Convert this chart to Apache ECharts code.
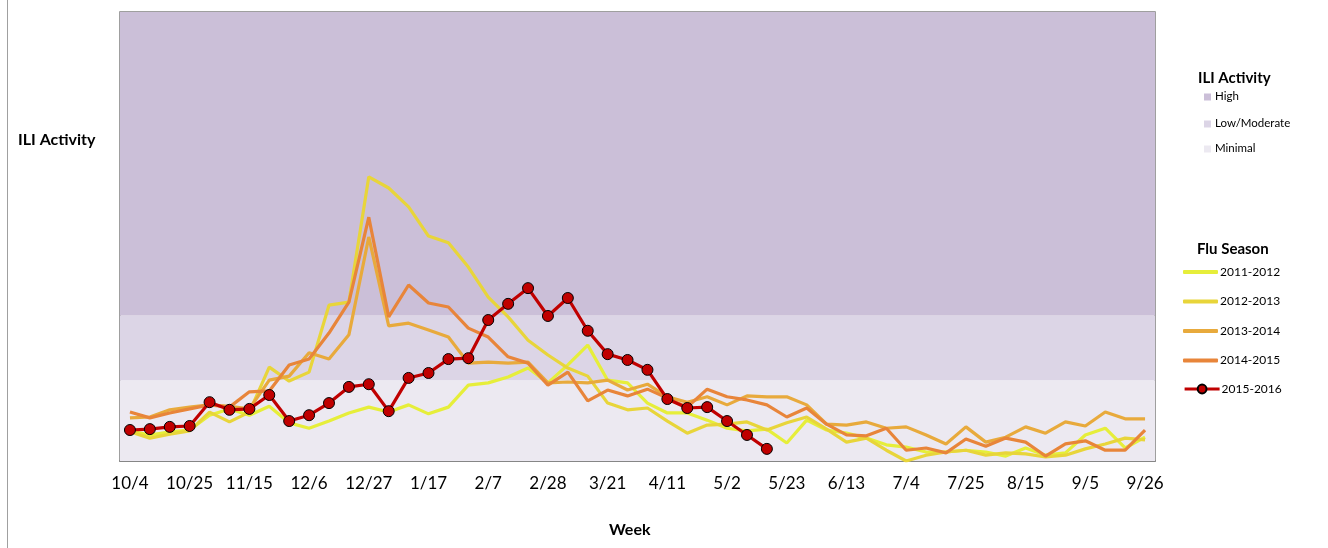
<!DOCTYPE html>
<html>
<head>
<meta charset="utf-8">
<script src="https://cdn.jsdelivr.net/npm/echarts@6/dist/echarts.min.js"></script>
<style>
html,body{margin:0;padding:0;background:#fff;}
#chart{width:1328px;height:548px;}
</style>
</head>
<body>
<div id="chart"></div>
<script>
const weeks = ['10/4','10/11','10/18','10/25','11/1','11/8','11/15','11/22','11/29','12/6','12/13','12/20','12/27','1/3','1/10','1/17','1/24','1/31','2/7','2/14','2/21','2/28','3/7','3/14','3/21','3/28','4/4','4/11','4/18','4/25','5/2','5/9','5/16','5/23','5/30','6/6','6/13','6/20','6/27','7/4','7/11','7/18','7/25','8/1','8/8','8/15','8/22','8/29','9/5','9/12','9/19','9/26'];

const season2011 = [0.67,0.58,0.65,0.69,1.02,1.16,1.02,1.22,0.85,0.73,0.89,1.07,1.20,1.09,1.25,1.05,1.20,1.69,1.74,1.87,2.07,1.74,2.14,2.58,1.80,1.74,1.29,1.07,1.07,0.91,0.73,0.67,0.71,0.40,0.91,0.69,0.62,0.51,0.36,0.31,0.20,0.20,0.24,0.20,0.11,0.29,0.13,0.18,0.58,0.73,0.29,0.53];
const season2012 = [0.65,0.51,0.60,0.67,1.09,0.87,1.09,2.09,1.78,1.98,3.47,3.54,6.33,6.08,5.66,5.01,4.86,4.32,3.65,3.21,2.69,2.36,2.07,1.89,1.29,1.14,1.18,0.89,0.62,0.80,0.82,0.87,0.69,0.85,0.98,0.71,0.42,0.51,0.24,0.00,0.13,0.20,0.24,0.13,0.18,0.16,0.09,0.13,0.27,0.38,0.51,0.47];
const season2013 = [0.96,0.98,1.14,1.20,1.25,1.22,1.16,1.80,1.89,2.41,2.27,2.81,4.99,3.01,3.07,2.92,2.76,2.18,2.20,2.18,2.20,1.74,1.76,1.74,1.80,1.58,1.71,1.43,1.31,1.43,1.25,1.45,1.43,1.43,1.25,0.82,0.80,0.87,0.73,0.76,0.58,0.38,0.76,0.42,0.53,0.76,0.62,0.87,0.78,1.09,0.94,0.94];
const season2014 = [1.09,0.96,1.07,1.16,1.25,1.20,1.54,1.56,2.14,2.27,2.85,3.54,5.43,3.21,3.92,3.52,3.43,2.96,2.76,2.32,2.18,1.69,1.98,1.34,1.58,1.45,1.60,1.40,1.20,1.60,1.43,1.36,1.25,0.98,1.18,0.82,0.58,0.56,0.73,0.24,0.29,0.18,0.49,0.33,0.51,0.42,0.11,0.38,0.45,0.24,0.24,0.69];
const season2015 = [0.69,0.71,0.76,0.78,1.31,1.14,1.16,1.47,0.89,1.02,1.29,1.65,1.71,1.11,1.85,1.96,2.27,2.29,3.14,3.50,3.85,3.23,3.63,2.90,2.38,2.25,2.03,1.38,1.18,1.20,0.89,0.58,0.27,null,null,null,null,null,null,null,null,null,null,null,null,null,null,null,null,null,null,null];

const seasonNames = ['2011-2012','2012-2013','2013-2014','2014-2015','2015-2016'];
const activityLevels = ['High','Low/Moderate','Minimal'];
const activityBounds = [0, 1.8, 3.24, 10];

const colors = ['#e6ee3a','#e8d53a','#e8aa3c','#e8853a','#c00000'];
const bandColors = ['#cbbfd8','#dcd5e6','#ece9f1'];
const FONT = 'Lato, "Open Sans", sans-serif';

const chart = echarts.init(document.getElementById('chart'));

const seasonData = [season2011, season2012, season2013, season2014, season2015];
const series = [{
  name: 'bands', type: 'line', data: [], silent: true, z: 0,
  markArea: {
    silent: true,
    data: [
      [{yAxis: activityBounds[0], itemStyle:{color: bandColors[2]}}, {yAxis: activityBounds[1]}],
      [{yAxis: activityBounds[1], itemStyle:{color: bandColors[1]}}, {yAxis: activityBounds[2]}],
      [{yAxis: activityBounds[2], itemStyle:{color: bandColors[0]}}, {yAxis: activityBounds[3]}]
    ]
  }
}];
seasonData.forEach((d, i) => {
  const last = i === 4;
  series.push({
    name: seasonNames[i], type: 'line', data: d, z: 2 + i,
    symbol: last ? 'circle' : 'none',
    symbolSize: 11,
    showSymbol: last,
    connectNulls: false,
    lineStyle: {color: colors[i], width: 3.2},
    itemStyle: last ? {color: colors[i], borderColor: '#000', borderWidth: 1} : {color: colors[i]},
    animation: false
  });
});

const graphics = [
  {type:'line', shape:{x1:7.5,y1:0,x2:7.5,y2:548}, style:{stroke:'#a0a0a0', lineWidth:1}},
  {type:'text', left: 18, top: 132, style:{text:'ILI Activity', font:'bold 16px ' + FONT, fill:'#000'}},
  {type:'text', left: 609, top: 522, style:{text:'Week', font:'bold 16px ' + FONT, fill:'#000'}},
  {type:'text', left: 1198, top: 71, style:{text:'ILI Activity', font:'bold 15px ' + FONT, fill:'#000'}},
  {type:'text', left: 1197, top: 242, style:{text:'Flu Season', font:'bold 15px ' + FONT, fill:'#000'}}
];
const legendY = [97, 124, 149];
activityLevels.forEach((name, i) => {
  graphics.push({type:'rect', shape:{x:1204, y:legendY[i]-3.5, width:7, height:7}, style:{fill: bandColors[i]}});
  graphics.push({type:'text', left:1215, top: legendY[i]-7, style:{text:name, font:'11.5px ' + FONT, fill:'#000'}});
});

const legendText = {fontSize: 12, fontFamily: FONT, color: '#000', padding: [0, 0, 0, -3]};
chart.setOption({
  animation: false,
  grid: {left: 120, right: 173, top: 12, bottom: 87, show: true, borderColor: '#808080', borderWidth: 1.5, backgroundColor: 'transparent'},
  xAxis: {
    type: 'category', data: weeks, boundaryGap: true,
    axisLine: {lineStyle: {color: '#868686', width: 2}},
    axisTick: {interval: 0, length: 5, lineStyle: {color: '#868686'}},
    axisLabel: {interval: 2, color: '#000', fontSize: 17, fontFamily: FONT, margin: 14}
  },
  yAxis: {type: 'value', min: 0, max: 10, show: false, splitLine: {show: false}},
  legend: [{
    data: seasonNames.slice(0, 4), orient: 'vertical', left: 1178, top: 261,
    icon: 'roundRect', itemWidth: 35, itemHeight: 4, itemGap: 17.5,
    itemStyle: {borderWidth: 0},
    textStyle: legendText
  }, {
    data: seasonNames.slice(4), orient: 'vertical', left: 1178, top: 378,
    itemWidth: 35, itemHeight: 11,
    lineStyle: {width: 3.2, color: '#c00000', shadowBlur: 0},
    textStyle: legendText
  }],
  graphic: graphics,
  series: series
});
</script>
</body>
</html>
